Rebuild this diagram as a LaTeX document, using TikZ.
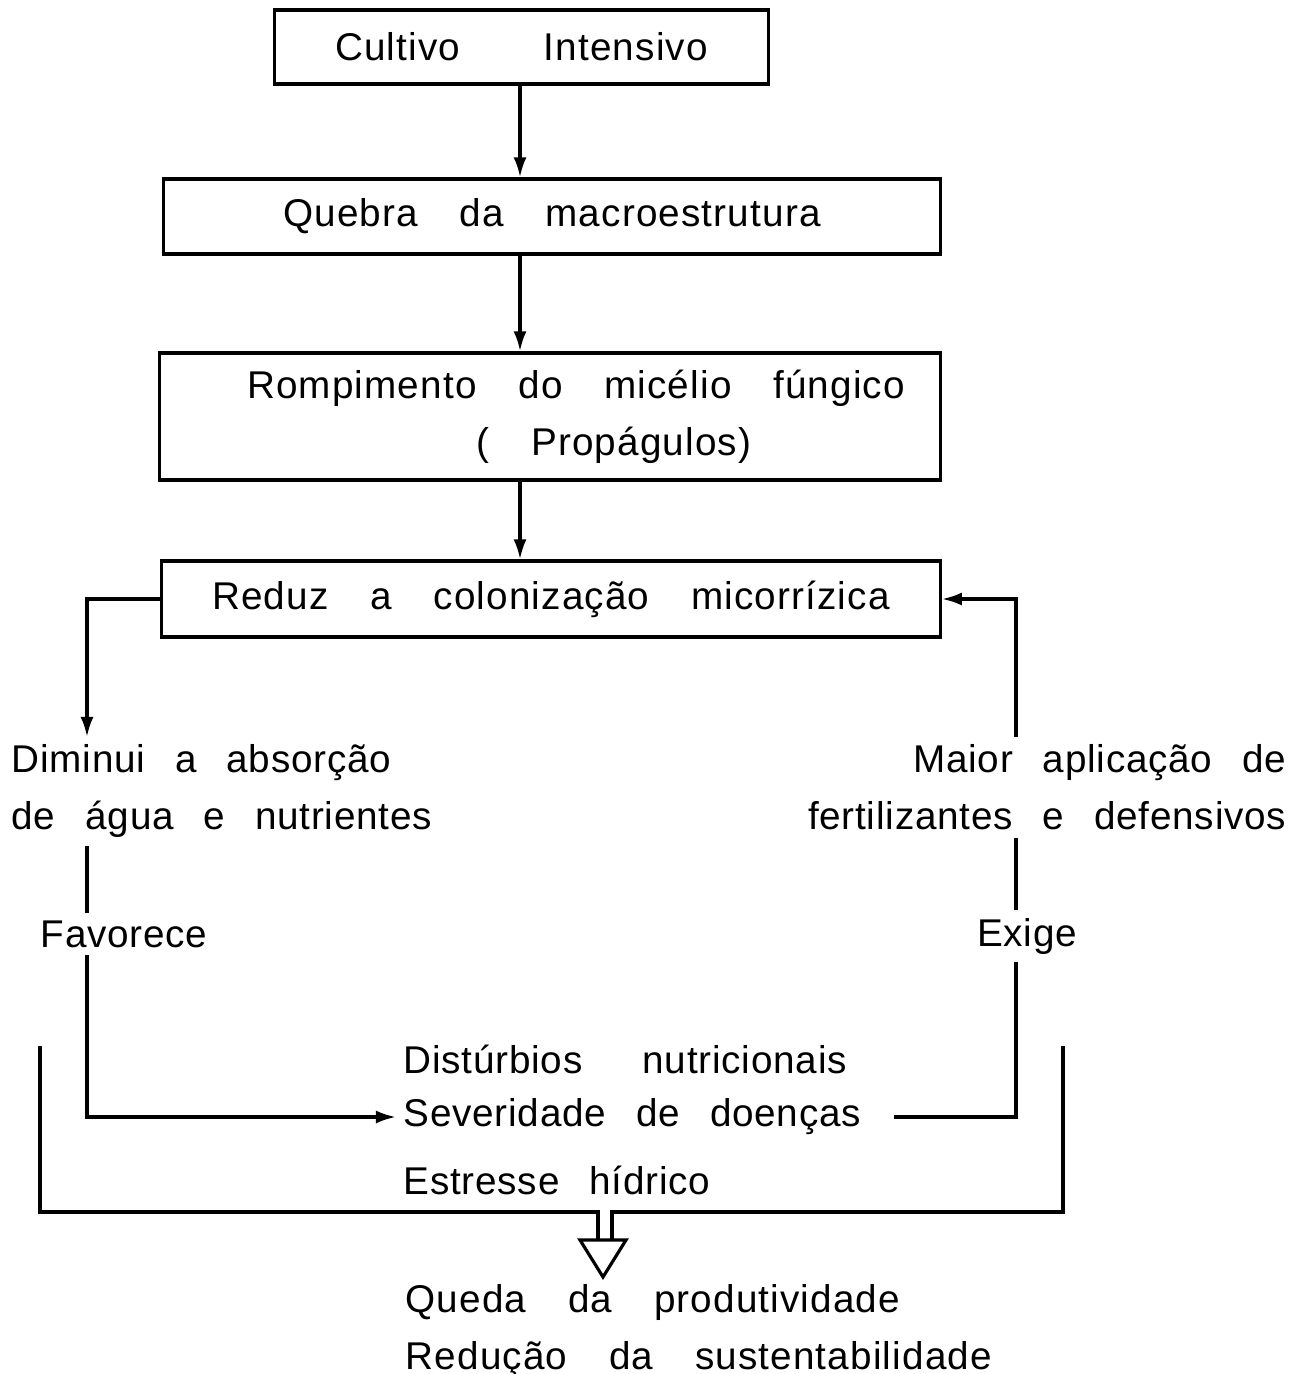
\documentclass[tikz,border=0pt]{standalone}
\usepackage{fontspec}
\setmainfont[WordSpace=3.5,LetterSpace=3]{Liberation Sans}
\newfontfamily\labelfont[WordSpace=2.6,LetterSpace=2]{Liberation Sans}
\usetikzlibrary{arrows.meta,positioning,calc}

\begin{document}
\begin{tikzpicture}[
  x=0.01cm, y=-0.01cm,
  font=\fontsize{11}{16.2}\selectfont,
  >={Latex[length=2mm,width=1.3mm]},
  flow/.style={->, line width=.9pt},
  link/.style={line width=.9pt},
  stage/.style={draw, line width=.9pt, align=center, inner sep=4pt},
  label/.style={inner sep=2pt, font=\fontsize{11}{16.2}\labelfont}
]
\useasboundingbox (0,0) rectangle (1298,1374);

% Cadeia principal de caixas.
\node[stage, minimum width=4.93cm, minimum height=.74cm] (cultivo) at (521.5,47)
      {Cultivo\ \ Intensivo};
\node[stage, minimum width=7.76cm, minimum height=.75cm] (quebra) at (552,216.5)
      {Quebra da macroestrutura};
\node[stage, minimum width=7.8cm, minimum height=1.27cm] (rompe) at (550,416.5)
      {\hspace*{.52cm}Rompimento do micélio fúngico\\\hspace*{1.28cm}( Propágulos)};
\node[stage, minimum width=7.78cm, minimum height=.76cm] (reduz) at (551,599)
      {Reduz a colonização micorrízica};

\coordinate (spine) at (520,0);
\draw[flow] (cultivo.south -| spine) -- (quebra.north -| spine);
\draw[flow] (quebra.south -| spine) -- (rompe.north -| spine);
\draw[flow] (rompe.south -| spine) -- (reduz.north -| spine);

% Ramo esquerdo.
\node[label, anchor=north west, align=left] (diminui) at (4,737)
      {Diminui a absorção\\de água e nutrientes};
\node[label] (favorece) at (124,934) {Favorece};
\coordinate (lcol) at (87,0);
\draw[flow] (reduz.west) -| (diminui.north -| lcol);
\draw[link] (diminui.south -| lcol) -- (favorece.north -| lcol);

% Efeitos.
\node[label, anchor=west] (disturbios) at (396,1059) {Distúrbios\hspace{.3cm} nutricionais};
\node[label, anchor=west] (severidade) at (396,1117) {Severidade de doenças};
\node[label, anchor=west] (estresse) at (396,1180) {Estresse hídrico};
\draw[flow] (favorece.south -| lcol) |- (severidade.west);

% Ramo direito.
\node[label, anchor=north east, align=right] (maior) at (1294,737)
      {Maior aplicação de\\fertilizantes e defensivos};
\node[label] (exige) at (1027,936) {Exige};
\coordinate (rcol) at (1016,0);
\draw[flow] (maior.north -| rcol) |- (reduz.east);
\draw[link] (maior.south -| rcol) -- (exige.north -| rcol);
\draw[link] (exige.south -| rcol) |- ([xshift=.25cm]severidade.east);

% Chave e seta vazada.
\node[inner sep=2pt, anchor=north west, align=left] (queda) at (398,1277)
      {Queda da produtividade\\Redução da sustentabilidade};
\coordinate (brleft) at (40,1046);
\coordinate (brright) at (1063,1046);
\coordinate (tip) at (603,1277);
\draw[link] (brleft) |- ($(tip)+(-5,-65)$) -- ++(0,28);
\draw[link] ($(tip)+(9,-37)$) -- ++(0,-28) -| (brright);
\draw[link] ($(tip)+(-23,-37)$) -- (tip) -- ($(tip)+(23,-37)$) -- cycle;

\end{tikzpicture}
\end{document}
